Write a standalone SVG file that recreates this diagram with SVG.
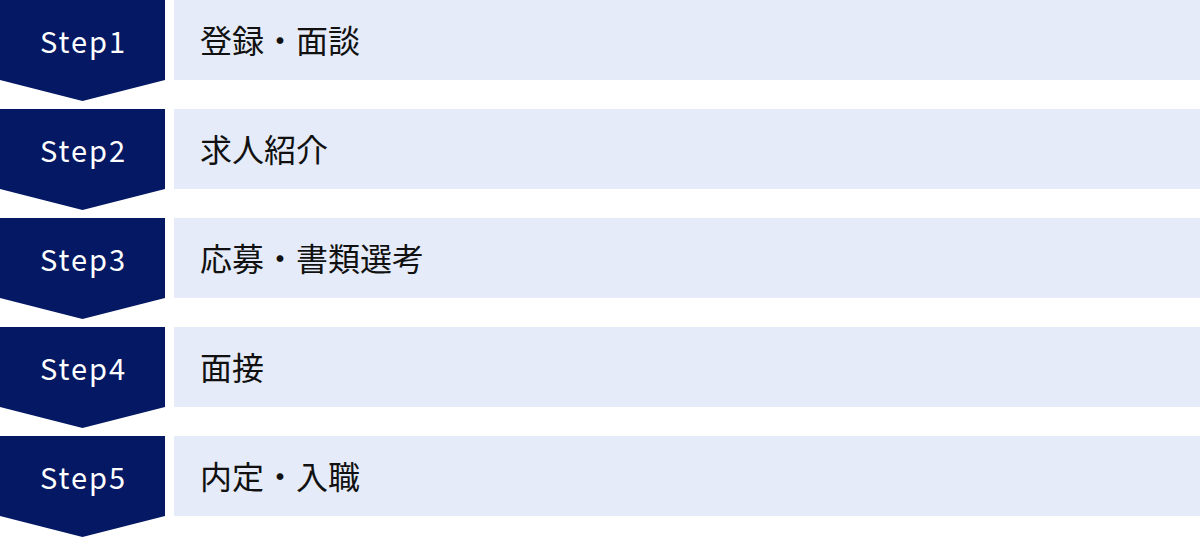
<svg xmlns="http://www.w3.org/2000/svg" width="1200" height="538" viewBox="0 0 1200 538">
<style>
.arrow{fill:#041864}
.bar{fill:#e5ebf8}
.step{font-family:"Noto Sans CJK JP",sans-serif;font-size:29px;font-weight:400;fill:#ffffff;text-anchor:middle;letter-spacing:2px}
.label{font-family:"Noto Sans CJK JP",sans-serif;font-size:32px;fill:#111111}
</style>
<rect width="1200" height="538" fill="#ffffff"/>
<g id="step1" transform="translate(0,0)">
<polygon class="arrow" points="0,0 165,0 165,80 82.5,101 0,80"/>
<rect class="bar" x="174" y="0" width="1026" height="80"/>
<text class="step" x="83.5" y="53">Step1</text>
<text class="label" x="200" y="53">登録・面談</text>
</g>
<g id="step2" transform="translate(0,109)">
<polygon class="arrow" points="0,0 165,0 165,80 82.5,101 0,80"/>
<rect class="bar" x="174" y="0" width="1026" height="80"/>
<text class="step" x="83.5" y="53">Step2</text>
<text class="label" x="200" y="53">求人紹介</text>
</g>
<g id="step3" transform="translate(0,218)">
<polygon class="arrow" points="0,0 165,0 165,80 82.5,101 0,80"/>
<rect class="bar" x="174" y="0" width="1026" height="80"/>
<text class="step" x="83.5" y="53">Step3</text>
<text class="label" x="200" y="53">応募・書類選考</text>
</g>
<g id="step4" transform="translate(0,327)">
<polygon class="arrow" points="0,0 165,0 165,80 82.5,101 0,80"/>
<rect class="bar" x="174" y="0" width="1026" height="80"/>
<text class="step" x="83.5" y="53">Step4</text>
<text class="label" x="200" y="53">面接</text>
</g>
<g id="step5" transform="translate(0,436)">
<polygon class="arrow" points="0,0 165,0 165,80 82.5,101 0,80"/>
<rect class="bar" x="174" y="0" width="1026" height="80"/>
<text class="step" x="83.5" y="53">Step5</text>
<text class="label" x="200" y="53">内定・入職</text>
</g>
<g id="connectors"></g>
</svg>
